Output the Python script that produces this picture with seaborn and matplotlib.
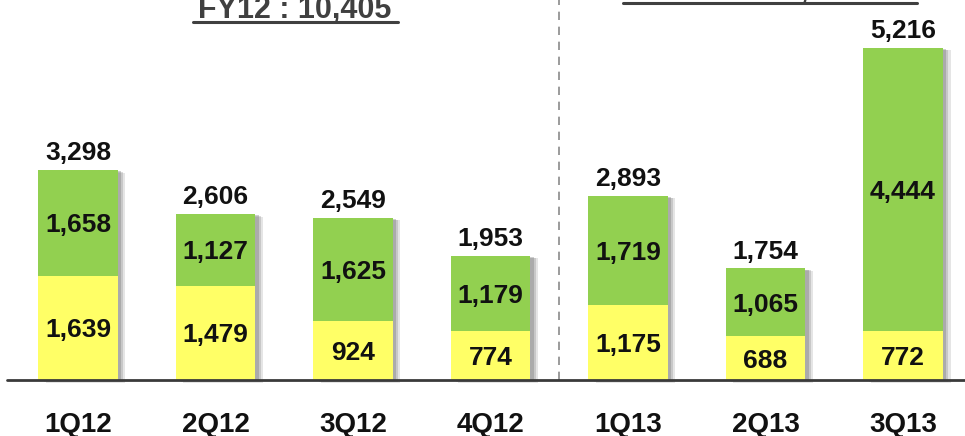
import matplotlib
matplotlib.use("Agg")
import matplotlib.pyplot as plt
import matplotlib.patheffects as pe
import seaborn as sns

# quarterly values
quarters = ["1Q12", "2Q12", "3Q12", "4Q12", "1Q13", "2Q13", "3Q13"]
lower = [1639, 1479, 924, 774, 1175, 688, 772]
upper = [1658, 1127, 1625, 1179, 1719, 1065, 4444]
totals = [3298, 2606, 2549, 1953, 2893, 1754, 5216]
header_left = "FY12 : 10,405"
header_right = "9M13 : 9,863"

GREEN = "#92D050"
YELLOW = "#FFFF66"
TXT = "#111111"
GREY = "#404040"

sns.set_theme(style="white")
plt.rcParams["font.family"] = ["Liberation Sans", "DejaVu Sans"]

fig = plt.figure(figsize=(9.65, 4.36), dpi=100)
ax = fig.add_axes([0, 0, 1, 1])

# full stack in green (with soft shadow), lower part in yellow on top
sns.barplot(x=quarters, y=totals, color=GREEN, saturation=1, width=0.58,
            linewidth=0, ax=ax)
shadow = [pe.SimplePatchShadow(offset=(5.5, -2), shadow_rgbFace="#999999", alpha=0.25),
          pe.SimplePatchShadow(offset=(4, -1.5), shadow_rgbFace="#888888", alpha=0.3),
          pe.SimplePatchShadow(offset=(2.5, -1), shadow_rgbFace="#777777", alpha=0.35),
          pe.Normal()]
for p in ax.patches:
    p.set_path_effects(shadow)
sns.barplot(x=quarters, y=lower, color=YELLOW, saturation=1, width=0.58,
            linewidth=0, ax=ax)

ax.set_xlim(-0.567, 6.451)
ax.set_ylim(-880, 5965)
ax.axis("off")

# baseline and the FY12 / 9M13 divider
ax.plot([-0.516, 6.451], [0, 0], color="#3a3a3a", lw=2, zorder=5)
ax.plot([3.5, 3.5], [0, 5965], color="#8a8a8a", lw=1.2, ls=(0, (5, 4)), zorder=1)

fs = 19
for i, q in enumerate(quarters):
    ax.annotate(f"{totals[i]:,}", (i, totals[i]), xytext=(0, 7),
                textcoords="offset points", ha="center", va="baseline",
                fontsize=fs, fontweight="bold", color=TXT)
    ax.text(i, lower[i] + upper[i] / 2, f"{upper[i]:,}", ha="center",
            va="center_baseline", fontsize=fs, fontweight="bold", color=TXT)
    ax.text(i, lower[i] / 2, f"{lower[i]:,}", ha="center",
            va="center_baseline", fontsize=fs, fontweight="bold", color=TXT)
    ax.text(i, -816, q, ha="center", va="baseline", fontsize=20,
            fontweight="bold", color=TXT)

# headers (cut off by the top edge in the original)
ax.text(1.578, 5683, header_left, ha="center", va="baseline", fontsize=22,
        fontweight="bold", color=GREY, clip_on=False)
ax.plot([0.836, 2.324], [5620, 5620], color=GREY, lw=2.2, clip_on=False)
ax.text(5.033, 5981, header_right, ha="center", va="baseline", fontsize=22,
        fontweight="bold", color=GREY, clip_on=False)
ax.plot([3.964, 6.102], [5918, 5918], color=GREY, lw=2.2, clip_on=False)

fig.savefig("out.png", dpi=100)
